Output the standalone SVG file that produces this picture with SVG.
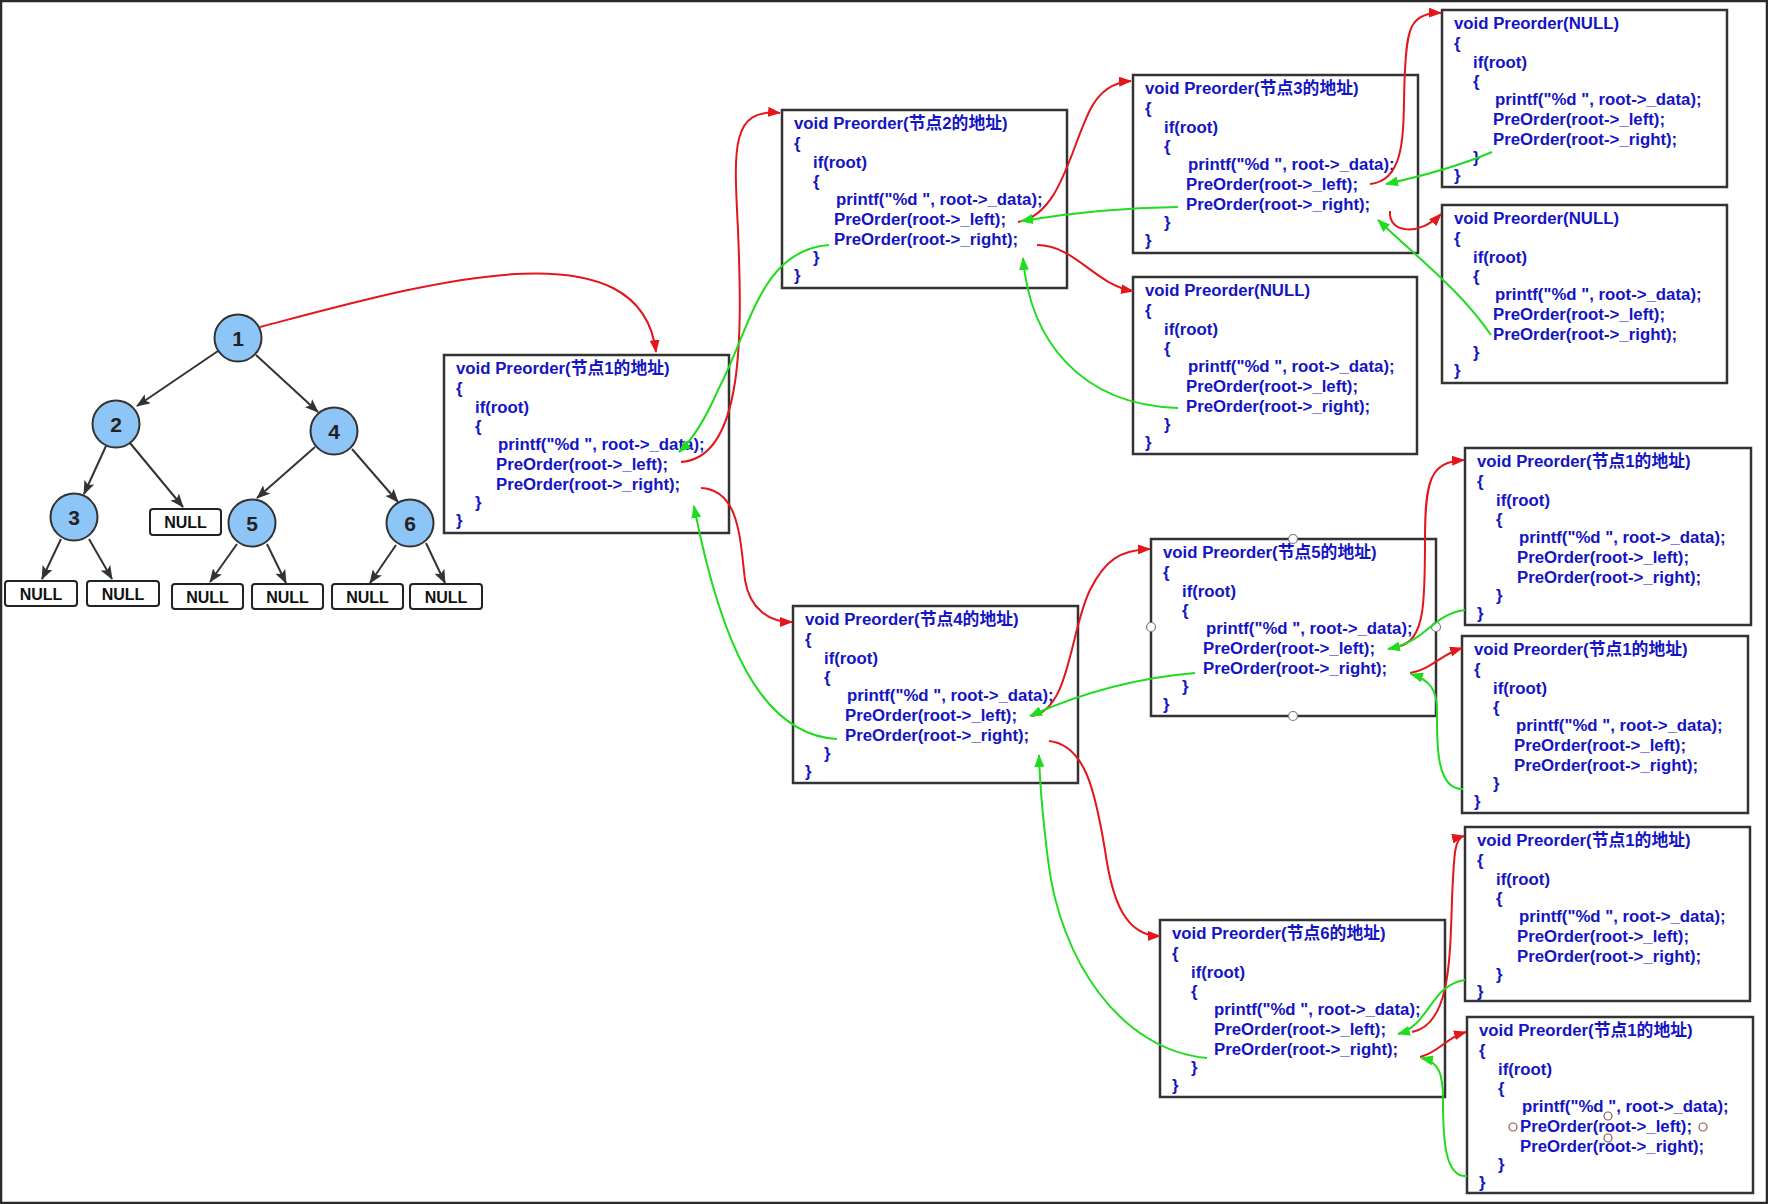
<svg xmlns="http://www.w3.org/2000/svg" width="1768" height="1204" viewBox="0 0 1768 1204">
<style>
.box{fill:#fff;stroke:#333;stroke-width:2.5}
.code{font-family:"Liberation Sans","Noto Sans CJK SC",sans-serif;font-weight:bold;font-size:16.8px;fill:#1414c4}
.tn{fill:#8ec5f7;stroke:#333;stroke-width:2}
.tl{font-family:"Liberation Sans","Noto Sans",sans-serif;font-weight:bold;font-size:21px;fill:#222;text-anchor:middle}
.nb{fill:#fff;stroke:#222;stroke-width:2}
.nt{font-family:"Liberation Sans",sans-serif;font-weight:bold;font-size:16px;fill:#111;text-anchor:middle}
.te{stroke:#333;stroke-width:2;fill:none;marker-end:url(#ad)}
.r{stroke:#e3161b;stroke-width:2;fill:none;marker-end:url(#ar)}
.g{stroke:#1fdc1f;stroke-width:2;fill:none;marker-end:url(#ag)}
.h{fill:#fff;stroke:#777;stroke-width:1.2}
.h2{fill:none;stroke:#8a5a4a;stroke-width:1.2}
</style>
<defs>
<marker id="ad" markerUnits="userSpaceOnUse" markerWidth="14" markerHeight="11" refX="13" refY="5.5" orient="auto"><path d="M0,0 L14,5.5 L0,11 L3,5.5 z" fill="#333"/></marker>
<marker id="ar" markerUnits="userSpaceOnUse" markerWidth="13" markerHeight="10" refX="12" refY="5" orient="auto"><path d="M0,0 L13,5 L0,10 z" fill="#e3161b"/></marker>
<marker id="ag" markerUnits="userSpaceOnUse" markerWidth="13" markerHeight="10" refX="12" refY="5" orient="auto"><path d="M0,0 L13,5 L0,10 z" fill="#1fdc1f"/></marker>
</defs>
<rect x="0" y="0" width="1768" height="1204" fill="#fff"/>
<rect x="1" y="1" width="1766" height="1202" fill="none" stroke="#2a2a2a" stroke-width="2.5"/>

<g id="tree-edges">
<path class="te" d="M218,351 L137,406"/>
<path class="te" d="M256,355 L318,412"/>
<path class="te" d="M106,446 L84,494"/>
<path class="te" d="M130,443 L183,507"/>
<path class="te" d="M315,447 L257,498"/>
<path class="te" d="M352,449 L398,502"/>
<path class="te" d="M61,539 L42,579"/>
<path class="te" d="M89,539 L112,579"/>
<path class="te" d="M237,544 L210,582"/>
<path class="te" d="M267,544 L286,583"/>
<path class="te" d="M396,545 L370,583"/>
<path class="te" d="M426,543 L445,583"/>
</g>

<g id="t1"><circle class="tn" cx="238" cy="338" r="23.5"/><text class="tl" x="238" y="345.5">1</text></g>
<g id="t2"><circle class="tn" cx="116" cy="424" r="23.5"/><text class="tl" x="116" y="431.5">2</text></g>
<g id="t4"><circle class="tn" cx="334" cy="431" r="23.5"/><text class="tl" x="334" y="438.5">4</text></g>
<g id="t3"><circle class="tn" cx="74" cy="517" r="23.5"/><text class="tl" x="74" y="524.5">3</text></g>
<g id="t5"><circle class="tn" cx="252" cy="523" r="23.5"/><text class="tl" x="252" y="530.5">5</text></g>
<g id="t6"><circle class="tn" cx="410" cy="523" r="23.5"/><text class="tl" x="410" y="530.5">6</text></g>

<g id="n2r"><rect class="nb" x="150" y="509" width="71" height="26" rx="3"/><text class="nt" x="185.5" y="528">NULL</text></g>
<g id="n3l"><rect class="nb" x="5" y="581" width="72" height="25" rx="3"/><text class="nt" x="41" y="599.5">NULL</text></g>
<g id="n3r"><rect class="nb" x="87" y="581" width="72" height="25" rx="3"/><text class="nt" x="123" y="599.5">NULL</text></g>
<g id="n5l"><rect class="nb" x="172" y="584" width="71" height="25" rx="3"/><text class="nt" x="207.5" y="602.5">NULL</text></g>
<g id="n5r"><rect class="nb" x="252" y="584" width="71" height="25" rx="3"/><text class="nt" x="287.5" y="602.5">NULL</text></g>
<g id="n6l"><rect class="nb" x="332" y="584" width="71" height="25" rx="3"/><text class="nt" x="367.5" y="602.5">NULL</text></g>
<g id="n6r"><rect class="nb" x="410" y="584" width="72" height="25" rx="3"/><text class="nt" x="446" y="602.5">NULL</text></g>

<g id="box1" transform="translate(444,355)">
<rect class="box" width="285" height="178"/>
<text class="code" x="12" y="19">void Preorder(节点1的地址)</text>
<text class="code" x="12" y="39">{</text>
<text class="code" x="31" y="58">if(root)</text>
<text class="code" x="31" y="77">{</text>
<text class="code" x="54" y="95">printf("%d ", root-&gt;_data);</text>
<text class="code" x="52" y="115">PreOrder(root-&gt;_left);</text>
<text class="code" x="52" y="135">PreOrder(root-&gt;_right);</text>
<text class="code" x="31" y="153">}</text>
<text class="code" x="12" y="171">}</text>
</g>

<g id="box2" transform="translate(782,110)">
<rect class="box" width="285" height="178"/>
<text class="code" x="12" y="19">void Preorder(节点2的地址)</text>
<text class="code" x="12" y="39">{</text>
<text class="code" x="31" y="58">if(root)</text>
<text class="code" x="31" y="77">{</text>
<text class="code" x="54" y="95">printf("%d ", root-&gt;_data);</text>
<text class="code" x="52" y="115">PreOrder(root-&gt;_left);</text>
<text class="code" x="52" y="135">PreOrder(root-&gt;_right);</text>
<text class="code" x="31" y="153">}</text>
<text class="code" x="12" y="171">}</text>
</g>

<g id="box3" transform="translate(1133,75)">
<rect class="box" width="285" height="178"/>
<text class="code" x="12" y="19">void Preorder(节点3的地址)</text>
<text class="code" x="12" y="39">{</text>
<text class="code" x="31" y="58">if(root)</text>
<text class="code" x="31" y="77">{</text>
<text class="code" x="55" y="95">printf("%d ", root-&gt;_data);</text>
<text class="code" x="53" y="115">PreOrder(root-&gt;_left);</text>
<text class="code" x="53" y="135">PreOrder(root-&gt;_right);</text>
<text class="code" x="31" y="153">}</text>
<text class="code" x="12" y="171">}</text>
</g>

<g id="null1" transform="translate(1442,10)">
<rect class="box" width="285" height="177"/>
<text class="code" x="12" y="19">void Preorder(NULL)</text>
<text class="code" x="12" y="39">{</text>
<text class="code" x="31" y="58">if(root)</text>
<text class="code" x="31" y="77">{</text>
<text class="code" x="53" y="95">printf("%d ", root-&gt;_data);</text>
<text class="code" x="51" y="115">PreOrder(root-&gt;_left);</text>
<text class="code" x="51" y="135">PreOrder(root-&gt;_right);</text>
<text class="code" x="31" y="153">}</text>
<text class="code" x="12" y="171">}</text>
</g>

<g id="null2" transform="translate(1442,205)">
<rect class="box" width="285" height="178"/>
<text class="code" x="12" y="19">void Preorder(NULL)</text>
<text class="code" x="12" y="39">{</text>
<text class="code" x="31" y="58">if(root)</text>
<text class="code" x="31" y="77">{</text>
<text class="code" x="53" y="95">printf("%d ", root-&gt;_data);</text>
<text class="code" x="51" y="115">PreOrder(root-&gt;_left);</text>
<text class="code" x="51" y="135">PreOrder(root-&gt;_right);</text>
<text class="code" x="31" y="153">}</text>
<text class="code" x="12" y="171">}</text>
</g>

<g id="null3" transform="translate(1133,277)">
<rect class="box" width="284" height="177"/>
<text class="code" x="12" y="19">void Preorder(NULL)</text>
<text class="code" x="12" y="39">{</text>
<text class="code" x="31" y="58">if(root)</text>
<text class="code" x="31" y="77">{</text>
<text class="code" x="55" y="95">printf("%d ", root-&gt;_data);</text>
<text class="code" x="53" y="115">PreOrder(root-&gt;_left);</text>
<text class="code" x="53" y="135">PreOrder(root-&gt;_right);</text>
<text class="code" x="31" y="153">}</text>
<text class="code" x="12" y="171">}</text>
</g>

<g id="box4" transform="translate(793,606)">
<rect class="box" width="285" height="177"/>
<text class="code" x="12" y="19">void Preorder(节点4的地址)</text>
<text class="code" x="12" y="39">{</text>
<text class="code" x="31" y="58">if(root)</text>
<text class="code" x="31" y="77">{</text>
<text class="code" x="54" y="95">printf("%d ", root-&gt;_data);</text>
<text class="code" x="52" y="115">PreOrder(root-&gt;_left);</text>
<text class="code" x="52" y="135">PreOrder(root-&gt;_right);</text>
<text class="code" x="31" y="153">}</text>
<text class="code" x="12" y="171">}</text>
</g>

<g id="box5" transform="translate(1151,539)">
<rect class="box" width="285" height="177"/>
<text class="code" x="12" y="19">void Preorder(节点5的地址)</text>
<text class="code" x="12" y="39">{</text>
<text class="code" x="31" y="58">if(root)</text>
<text class="code" x="31" y="77">{</text>
<text class="code" x="55" y="95">printf("%d ", root-&gt;_data);</text>
<text class="code" x="52" y="115">PreOrder(root-&gt;_left);</text>
<text class="code" x="52" y="135">PreOrder(root-&gt;_right);</text>
<text class="code" x="31" y="153">}</text>
<text class="code" x="12" y="171">}</text>
<circle class="h" cx="142" cy="0" r="4.5"/>
<circle class="h" cx="0" cy="88" r="4.5"/>
<circle class="h" cx="285" cy="88" r="4.5"/>
<circle class="h" cx="142" cy="177" r="4.5"/>
</g>

<g id="rA" transform="translate(1465,448)">
<rect class="box" width="286" height="177"/>
<text class="code" x="12" y="19">void Preorder(节点1的地址)</text>
<text class="code" x="12" y="39">{</text>
<text class="code" x="31" y="58">if(root)</text>
<text class="code" x="31" y="77">{</text>
<text class="code" x="54" y="95">printf("%d ", root-&gt;_data);</text>
<text class="code" x="52" y="115">PreOrder(root-&gt;_left);</text>
<text class="code" x="52" y="135">PreOrder(root-&gt;_right);</text>
<text class="code" x="31" y="153">}</text>
<text class="code" x="12" y="171">}</text>
</g>

<g id="rB" transform="translate(1462,636)">
<rect class="box" width="286" height="177"/>
<text class="code" x="12" y="19">void Preorder(节点1的地址)</text>
<text class="code" x="12" y="39">{</text>
<text class="code" x="31" y="58">if(root)</text>
<text class="code" x="31" y="77">{</text>
<text class="code" x="54" y="95">printf("%d ", root-&gt;_data);</text>
<text class="code" x="52" y="115">PreOrder(root-&gt;_left);</text>
<text class="code" x="52" y="135">PreOrder(root-&gt;_right);</text>
<text class="code" x="31" y="153">}</text>
<text class="code" x="12" y="171">}</text>
</g>

<g id="box6" transform="translate(1160,920)">
<rect class="box" width="285" height="177"/>
<text class="code" x="12" y="19">void Preorder(节点6的地址)</text>
<text class="code" x="12" y="39">{</text>
<text class="code" x="31" y="58">if(root)</text>
<text class="code" x="31" y="77">{</text>
<text class="code" x="54" y="95">printf("%d ", root-&gt;_data);</text>
<text class="code" x="54" y="115">PreOrder(root-&gt;_left);</text>
<text class="code" x="54" y="135">PreOrder(root-&gt;_right);</text>
<text class="code" x="31" y="153">}</text>
<text class="code" x="12" y="171">}</text>
</g>

<g id="rC" transform="translate(1465,827)">
<rect class="box" width="285" height="174"/>
<text class="code" x="12" y="19">void Preorder(节点1的地址)</text>
<text class="code" x="12" y="39">{</text>
<text class="code" x="31" y="58">if(root)</text>
<text class="code" x="31" y="77">{</text>
<text class="code" x="54" y="95">printf("%d ", root-&gt;_data);</text>
<text class="code" x="52" y="115">PreOrder(root-&gt;_left);</text>
<text class="code" x="52" y="135">PreOrder(root-&gt;_right);</text>
<text class="code" x="31" y="153">}</text>
<text class="code" x="12" y="170">}</text>
</g>

<g id="rD" transform="translate(1467,1017)">
<rect class="box" width="286" height="176"/>
<text class="code" x="12" y="19">void Preorder(节点1的地址)</text>
<text class="code" x="12" y="39">{</text>
<text class="code" x="31" y="58">if(root)</text>
<text class="code" x="31" y="77">{</text>
<text class="code" x="55" y="95">printf("%d ", root-&gt;_data);</text>
<text class="code" x="53" y="115">PreOrder(root-&gt;_left);</text>
<text class="code" x="53" y="135">PreOrder(root-&gt;_right);</text>
<text class="code" x="31" y="153">}</text>
<text class="code" x="12" y="171">}</text>
<circle class="h2" cx="141" cy="99" r="4"/>
<circle class="h2" cx="46" cy="110" r="4"/>
<circle class="h2" cx="236" cy="110" r="4"/>
<circle class="h2" cx="141" cy="121" r="4"/>
</g>

<g id="connectors">
<path class="r" d="M260,327 C420,285 640,220 656,352"/>
<path class="r" d="M681,462 C745,458 742,330 738,230 C734,150 730,108 780,113"/>
<path class="g" d="M829,245 C760,250 750,330 718,390 C705,420 692,440 679,452"/>
<path class="r" d="M1018,222 C1060,215 1070,150 1090,110 C1100,90 1115,82 1131,81"/>
<path class="g" d="M1178,207 Q1100,208 1021,221"/>
<path class="r" d="M1037,245 C1075,245 1095,285 1133,291"/>
<path class="g" d="M1178,408 C1080,405 1030,340 1023,258"/>
<path class="r" d="M1370,184 C1410,180 1402,120 1405,70 C1407,30 1410,12 1441,13"/>
<path class="g" d="M1492,152 Q1450,170 1386,184"/>
<path class="r" d="M1390,211 C1388,234 1420,236 1441,214"/>
<path class="g" d="M1491,335 C1460,290 1420,260 1378,220"/>
<path class="r" d="M701,488 C740,490 740,540 745,580 C750,610 770,622 792,622"/>
<path class="g" d="M837,739 C760,735 720,640 694,506"/>
<path class="r" d="M1032,716 C1070,710 1070,630 1090,590 C1105,560 1120,550 1150,549"/>
<path class="g" d="M1195,673 Q1110,680 1030,716"/>
<path class="r" d="M1049,741 C1085,745 1095,790 1105,850 C1112,900 1125,936 1160,936"/>
<path class="g" d="M1207,1058 C1120,1050 1060,960 1048,860 C1043,820 1040,790 1039,755"/>
<path class="r" d="M1400,646 C1425,640 1425,600 1425,540 C1425,480 1430,462 1464,460"/>
<path class="g" d="M1465,610 C1430,615 1430,640 1388,649"/>
<path class="r" d="M1410,673 C1430,670 1440,655 1462,648"/>
<path class="g" d="M1463,789 C1435,790 1437,740 1437,710 C1437,690 1430,680 1411,674"/>
<path class="r" d="M1412,1032 C1450,1025 1450,960 1452,900 C1454,850 1455,838 1464,836"/>
<path class="g" d="M1465,980 C1430,985 1430,1025 1398,1034"/>
<path class="r" d="M1420,1057 C1440,1052 1445,1038 1466,1032"/>
<path class="g" d="M1467,1176 C1445,1178 1443,1140 1443,1100 C1443,1075 1440,1062 1421,1058"/>
</g>
</svg>
